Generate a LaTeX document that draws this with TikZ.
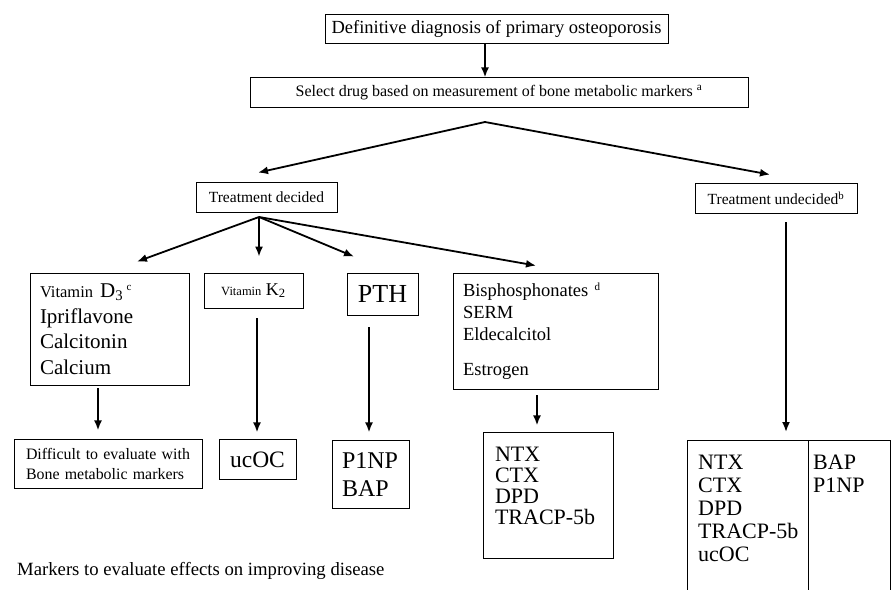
\documentclass[tikz,border=0pt]{standalone}
\usepackage{fontspec}
\setmainfont{Liberation Serif}
\usetikzlibrary{arrows.meta,positioning,calc}

\newcommand{\fsz}[2]{\fontsize{#1}{#2}\selectfont}
\newcommand{\lowpad}[1]{\rule[-#1]{0pt}{#1}}

\begin{document}
\begin{tikzpicture}[
  x=1pt, y=-1pt,
  >={Latex[length=10pt,width=8pt]},
  box/.style={draw, line width=0.8pt, inner sep=0pt, align=center},
  listbox/.style={draw, line width=0.8pt, inner xsep=10pt, inner ysep=0pt, align=left},
  flow/.style={->, line width=1.8pt}
]
\useasboundingbox (0,0) rectangle (891,589);
\clip (0,0) rectangle (891,589);

\node[box, minimum width=343pt, minimum height=29pt, font=\fsz{18.5}{22}] (diag) at (496.5,28.5)
  {Definitive diagnosis of primary osteoporosis};
\node[box, below=34pt of diag, xshift=2.5pt, minimum width=498pt, minimum height=30pt, font=\fsz{16}{19}] (select)
  {Select drug based on measurement of bone metabolic markers \textsuperscript{a}};

\coordinate (apex) at (485,122);
\node[box, minimum width=141pt, minimum height=30pt, font=\fsz{15.5}{18}] (decided) at (266.5,197) {Treatment decided};
\node[box, minimum width=162pt, minimum height=30pt, font=\fsz{15.5}{18}] (undecided) at (776,198) {Treatment undecided\textsuperscript{b}};

\draw[flow] (diag.south -| apex) -- (select.north -| apex);
\draw[flow] (apex) -- ($(decided.north)+(-8.5,-9)$);
\draw[flow] (apex) -- ($(undecided.north)+(-6,-8)$);

% drugs
\coordinate (fork) at (259,217);
\node[listbox, text width=139pt, minimum height=112pt, font=\fsz{21}{25.5}] (vitd) at (109.5,329)
  {{\fsz{16.5}{20}Vitamin} D\textsubscript{3}\,\textsuperscript{\fsz{11}{12}c}\\Ipriflavone\\Calcitonin\\Calcium};
\node[box, minimum width=99pt, minimum height=35pt, font=\fsz{18}{20}] (vitk) at (253.5,290.5)
  {{\fsz{12.5}{14}Vitamin} K\textsubscript{2}};
\node[box, minimum width=71pt, minimum height=42pt, font=\fsz{26}{28}] (pth) at (382.5,294) {PTH};
\node[listbox, text width=185pt, minimum height=116pt, font=\fsz{18.5}{22}] (bisph) at (555.5,331)
  {Bisphosphonates \textsuperscript{\fsz{11}{12}d}\\SERM\\Eldecalcitol\\[13pt]Estrogen};

\draw[flow] (fork) -- ($(vitd.north)+(27.5,-11)$);
\draw[flow, shorten >=16pt] (fork) -- (fork |- vitk.north);
\draw[flow] (fork) -- ($(pth.north)+(-28.5,-16)$);
\draw[flow] (fork) -- ($(bisph.north)+(-19.5,-7)$);

% markers
\node[listbox, below=54pt of vitd, xshift=-1.5pt, inner xsep=12pt, text width=164pt, minimum height=49pt, font=\fsz{15.9}{20}] (difficult)
  {Difficult to evaluate with\\Bone metabolic markers};
\node[box, below=131pt of vitk, xshift=4pt, minimum width=77pt, minimum height=40pt, font=\fsz{23.5}{26}] (ucoc) {ucOC};
\node[listbox, below=125pt of pth, xshift=-12pt, text width=57pt, minimum height=68pt, font=\fsz{24}{28}] (p1np) {P1NP\\BAP};
\node[listbox, below=43pt of bisph, xshift=-7.5pt, inner xsep=12pt, text width=106pt, minimum height=126pt, font=\fsz{22}{21}] (ntx)
  {NTX\\CTX\\DPD\\TRACP-5b\lowpad{20pt}};

\draw[flow, shorten <=3pt, shorten >=9pt] ([xshift=-11.5pt]vitd.south) -- ([xshift=-11.5pt]vitd.south |- difficult.north);
\draw[flow, shorten <=10pt, shorten >=7pt] ([xshift=3.5pt]vitk.south) -- ([xshift=3.5pt]vitk.south |- ucoc.north);
\draw[flow, shorten <=12pt, shorten >=8pt] ([xshift=-13.5pt]pth.south) -- ([xshift=-13.5pt]pth.south |- p1np.north);
\draw[flow, shorten <=6pt, shorten >=7pt] ([xshift=-18.5pt]bisph.south) -- ([xshift=-18.5pt]bisph.south |- ntx.north);

% undecided table
\node[draw, line width=0.8pt, anchor=north west, minimum width=203pt, minimum height=170pt, inner sep=0pt] (undecbox) at (687,440) {};
\coordinate (divx) at (808,440);
\draw[line width=0.8pt] (divx) -- (divx |- undecbox.south);
\node[anchor=north west, inner sep=0pt, align=left, font=\fsz{22}{23}] (undecl) at (698,455)
  {NTX\\CTX\\DPD\\TRACP-5b\\ucOC};
\node[anchor=north west, inner sep=0pt, align=left, font=\fsz{22}{23}] (undecr) at (813,455) {BAP\\P1NP};
\draw[flow, shorten <=9pt, shorten >=8pt] ([xshift=10pt]undecided.south) -- ([xshift=10pt]undecided.south |- undecbox.north);

\node[anchor=west, inner sep=0pt, font=\fsz{18.7}{22}] (caption) at (17,571)
  {Markers to evaluate effects on improving disease};
\end{tikzpicture}
\end{document}
